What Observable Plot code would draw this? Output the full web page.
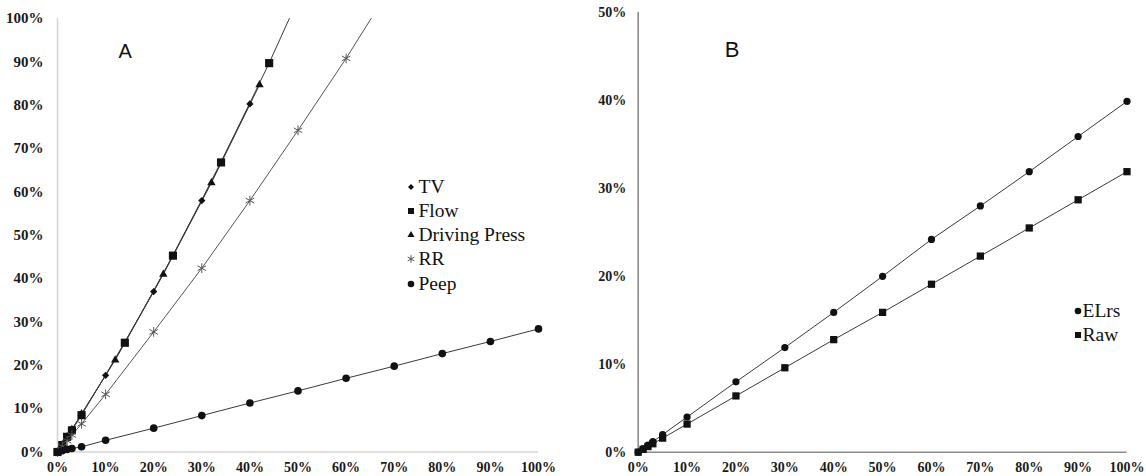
<!DOCTYPE html>
<html>
<head>
<meta charset="utf-8">
<script src="https://cdn.jsdelivr.net/npm/d3@7"></script>
<script src="https://cdn.jsdelivr.net/npm/@observablehq/plot@0.6"></script>
<style>
  html, body { margin: 0; padding: 0; background: #fff; }
  #wrap { position: relative; width: 1146px; height: 476px; overflow: hidden; background: #fff; }
  #wrap > .panel { position: absolute; top: 0; }
  .letter { position: absolute; font-family: "Liberation Sans", Arial, sans-serif; color: #111; line-height: 1; }
  .legend { position: absolute; font-family: "Liberation Serif", "Times New Roman", serif; font-size: 19.5px; color: #111; }
  .legend .row { position: absolute; white-space: nowrap; height: 24px; line-height: 24px; }
  .legend svg { position: absolute; left: -6px; top: 6px; overflow: visible; }
  .legend span { position: absolute; top: 0; }
</style>
</head>
<body>
<div id="wrap"></div>
<script>
// ---------------- DATA ----------------
// Panel A
const tvX   = [0, 0.01, 0.02, 0.03, 0.05, 0.10, 0.20, 0.30, 0.40];
const tvY   = [0, 0.017, 0.035, 0.052, 0.088, 0.177, 0.370, 0.580, 0.803];
const flowX = [0, 0.01, 0.02, 0.03, 0.05, 0.14, 0.24, 0.34, 0.44];
const flowY = [0, 0.016, 0.035, 0.050, 0.085, 0.252, 0.453, 0.668, 0.897];
const dpX   = [0, 0.01, 0.02, 0.03, 0.05, 0.12, 0.22, 0.32, 0.42];
const dpY   = [0, 0.017, 0.035, 0.052, 0.088, 0.212, 0.410, 0.621, 0.847];
const rrX   = [0, 0.01, 0.02, 0.03, 0.05, 0.10, 0.20, 0.30, 0.40, 0.50, 0.60];
const rrY   = [0, 0.013, 0.026, 0.039, 0.065, 0.133, 0.277, 0.424, 0.580, 0.742, 0.908];
const peepX = [0, 0.01, 0.02, 0.03, 0.05, 0.10, 0.20, 0.30, 0.40, 0.50, 0.60, 0.70, 0.80, 0.90, 1.00];
const peepY = [0, 0.003, 0.006, 0.008, 0.012, 0.027, 0.055, 0.084, 0.113, 0.141, 0.170, 0.198, 0.227, 0.255, 0.284];
// trend-line continuation points read where lines leave the top of panel A
const flowTrendEndX = [0.482];
const flowTrendEndY = [1.0];
const rrTrendEndX   = [0.652];
const rrTrendEndY   = [1.0];
const seriesA = ["TV", "Flow", "Driving Press", "RR", "Peep"];

// Panel B
const bX    = [0, 0.01, 0.02, 0.03, 0.05, 0.10, 0.20, 0.30, 0.40, 0.50, 0.60, 0.70, 0.80, 0.90, 1.00];
const elrsY = [0, 0.004, 0.008, 0.012, 0.020, 0.040, 0.080, 0.119, 0.159, 0.200, 0.242, 0.280, 0.319, 0.359, 0.399];
const rawY  = [0, 0.0032, 0.0064, 0.0096, 0.016, 0.032, 0.064, 0.096, 0.128, 0.159, 0.191, 0.223, 0.255, 0.287, 0.319];
const seriesB = ["ELrs", "Raw"];

// Ticks
const xTicks  = [0, 0.1, 0.2, 0.3, 0.4, 0.5, 0.6, 0.7, 0.8, 0.9, 1.0];
const yTicksA = [0, 0.1, 0.2, 0.3, 0.4, 0.5, 0.6, 0.7, 0.8, 0.9, 1.0];
const yTicksB = [0, 0.1, 0.2, 0.3, 0.4, 0.5];
const panelLabels = ["A", "B"];

// ---------------- BUILD ----------------
const pts = (xs, ys) => xs.map((x, i) => ({x, y: ys[i]}));
const tv = pts(tvX, tvY), flow = pts(flowX, flowY), dp = pts(dpX, dpY),
      rr = pts(rrX, rrY), peep = pts(peepX, peepY);
const flowLine = flow.concat(pts(flowTrendEndX, flowTrendEndY));
const rrLine = rr.concat(pts(rrTrendEndX, rrTrendEndY));
const elrs = pts(bX, elrsY), raw = pts(bX, rawY);

const pct = d3.format(".0%");
const serif = "'Liberation Serif', 'Times New Roman', serif";
const lineStyle = {x: "x", y: "y", stroke: "#3a3a3a", strokeWidth: 1, clip: true};
const ink = "#111";
const tickText = {fontWeight: "bold", fill: "#1a1a1a", label: null, tickSize: 0};

const plotA = Plot.plot({
  width: 560, height: 476,
  marginLeft: 57, marginRight: 22, marginTop: 18, marginBottom: 24.5,
  x: {domain: [0, 1]},
  y: {domain: [0, 1]},
  style: {fontFamily: serif, background: "#fff", overflow: "visible"},
  marks: [
    Plot.ruleY([0], {stroke: "#d4d4d4", strokeWidth: 1.5}),
    Plot.ruleX([0], {stroke: "#d4d4d4", strokeWidth: 1.5}),
    Plot.axisX({...tickText, ticks: xTicks, tickFormat: pct, tickPadding: 10, fontSize: 14}),
    Plot.axisY({...tickText, ticks: yTicksA, tickFormat: pct, tickPadding: 14, fontSize: 15}),
    Plot.line(tv, lineStyle),
    Plot.line(dp, lineStyle),
    Plot.line(flowLine, lineStyle),
    Plot.line(rrLine, {...lineStyle, stroke: "#555"}),
    Plot.line(peep, lineStyle),
    Plot.dot(tv, {x: "x", y: "y", symbol: "square", rotate: 45, r: 2.9, fill: ink}),
    Plot.dot(dp, {x: "x", y: "y", symbol: "triangle", r: 3.1, fill: ink}),
    Plot.dot(flow, {x: "x", y: "y", symbol: "square", r: 4.6, fill: ink}),
    Plot.dot(rr, {x: "x", y: "y", symbol: "asterisk", r: 4.6, stroke: "#555", strokeWidth: 1}),
    Plot.dot(peep, {x: "x", y: "y", symbol: "circle", r: 3.8, fill: ink})
  ]
});

const plotB = Plot.plot({
  width: 586, height: 476,
  marginLeft: 77.7, marginRight: 19.5, marginTop: 12, marginBottom: 24.3,
  x: {domain: [0, 1]},
  y: {domain: [0, 0.5]},
  style: {fontFamily: serif, background: "#fff", overflow: "visible"},
  marks: [
    Plot.ruleY([0], {stroke: "#8c8c8c", strokeWidth: 1.6}),
    Plot.ruleX([0], {stroke: "#8c8c8c", strokeWidth: 1.6}),
    Plot.axisX({...tickText, ticks: xTicks, tickFormat: pct, tickPadding: 10, fontSize: 14}),
    Plot.axisY({...tickText, ticks: yTicksB, tickFormat: pct, tickPadding: 12, fontSize: 14}),
    Plot.line(elrs, lineStyle),
    Plot.line(raw, lineStyle),
    Plot.dot(elrs, {x: "x", y: "y", symbol: "circle", r: 3.6, fill: ink}),
    Plot.dot(raw, {x: "x", y: "y", symbol: "square", r: 4.1, fill: ink})
  ]
});

const wrap = document.getElementById("wrap");
const pA = document.createElement("div"); pA.className = "panel"; pA.style.left = "0px"; pA.appendChild(plotA);
const pB = document.createElement("div"); pB.className = "panel"; pB.style.left = "560px"; pB.appendChild(plotB);
wrap.appendChild(pA); wrap.appendChild(pB);

// Panel letters
function letter(txt, cx, cy, size) {
  const d = document.createElement("div");
  d.className = "letter"; d.textContent = txt;
  d.style.fontSize = size + "px";
  d.style.left = (cx - size * 0.35) + "px";
  d.style.top = (cy - size * 0.55) + "px";
  wrap.appendChild(d);
}
letter(panelLabels[0], 125.5, 52, 20);
letter(panelLabels[1], 732.5, 51, 22);

// Legends
const legendSymbols = {
  "TV": {type: d3.symbolSquare, size: 18, rotate: 45, fill: ink},
  "Flow": {type: d3.symbolSquare, size: 36, fill: ink},
  "Driving Press": {type: d3.symbolTriangle, size: 22, fill: ink},
  "RR": {type: d3.symbolAsterisk, size: 40, stroke: "#555"},
  "Peep": {type: d3.symbolCircle, size: 34, fill: ink},
  "ELrs": {type: d3.symbolCircle, size: 34, fill: ink},
  "Raw": {type: d3.symbolSquare, size: 36, fill: ink}
};
function legend(names, left, top, step, textOffset) {
  const g = document.createElement("div");
  g.className = "legend"; g.style.left = left + "px"; g.style.top = top + "px";
  names.forEach((n, i) => {
    const row = document.createElement("div");
    row.className = "row"; row.style.top = (i * step) + "px"; row.style.left = "0px";
    const s = legendSymbols[n];
    const svg = d3.create("svg").attr("width", 12).attr("height", 12).attr("viewBox", "-6 -6 12 12");
    svg.append("path").attr("d", d3.symbol(s.type, s.size)())
      .attr("transform", s.rotate ? `rotate(${s.rotate})` : null)
      .attr("fill", s.fill || "none").attr("stroke", s.stroke || "none").attr("stroke-width", 1);
    row.appendChild(svg.node());
    const sp = document.createElement("span"); sp.textContent = n; sp.style.left = textOffset + "px"; row.appendChild(sp);
    g.appendChild(row);
  });
  wrap.appendChild(g);
}
legend(seriesA, 411, 174.5, 24.3, 7.5);
legend(seriesB, 1078, 299, 23.5, 4.5);
</script>
</body>
</html>
